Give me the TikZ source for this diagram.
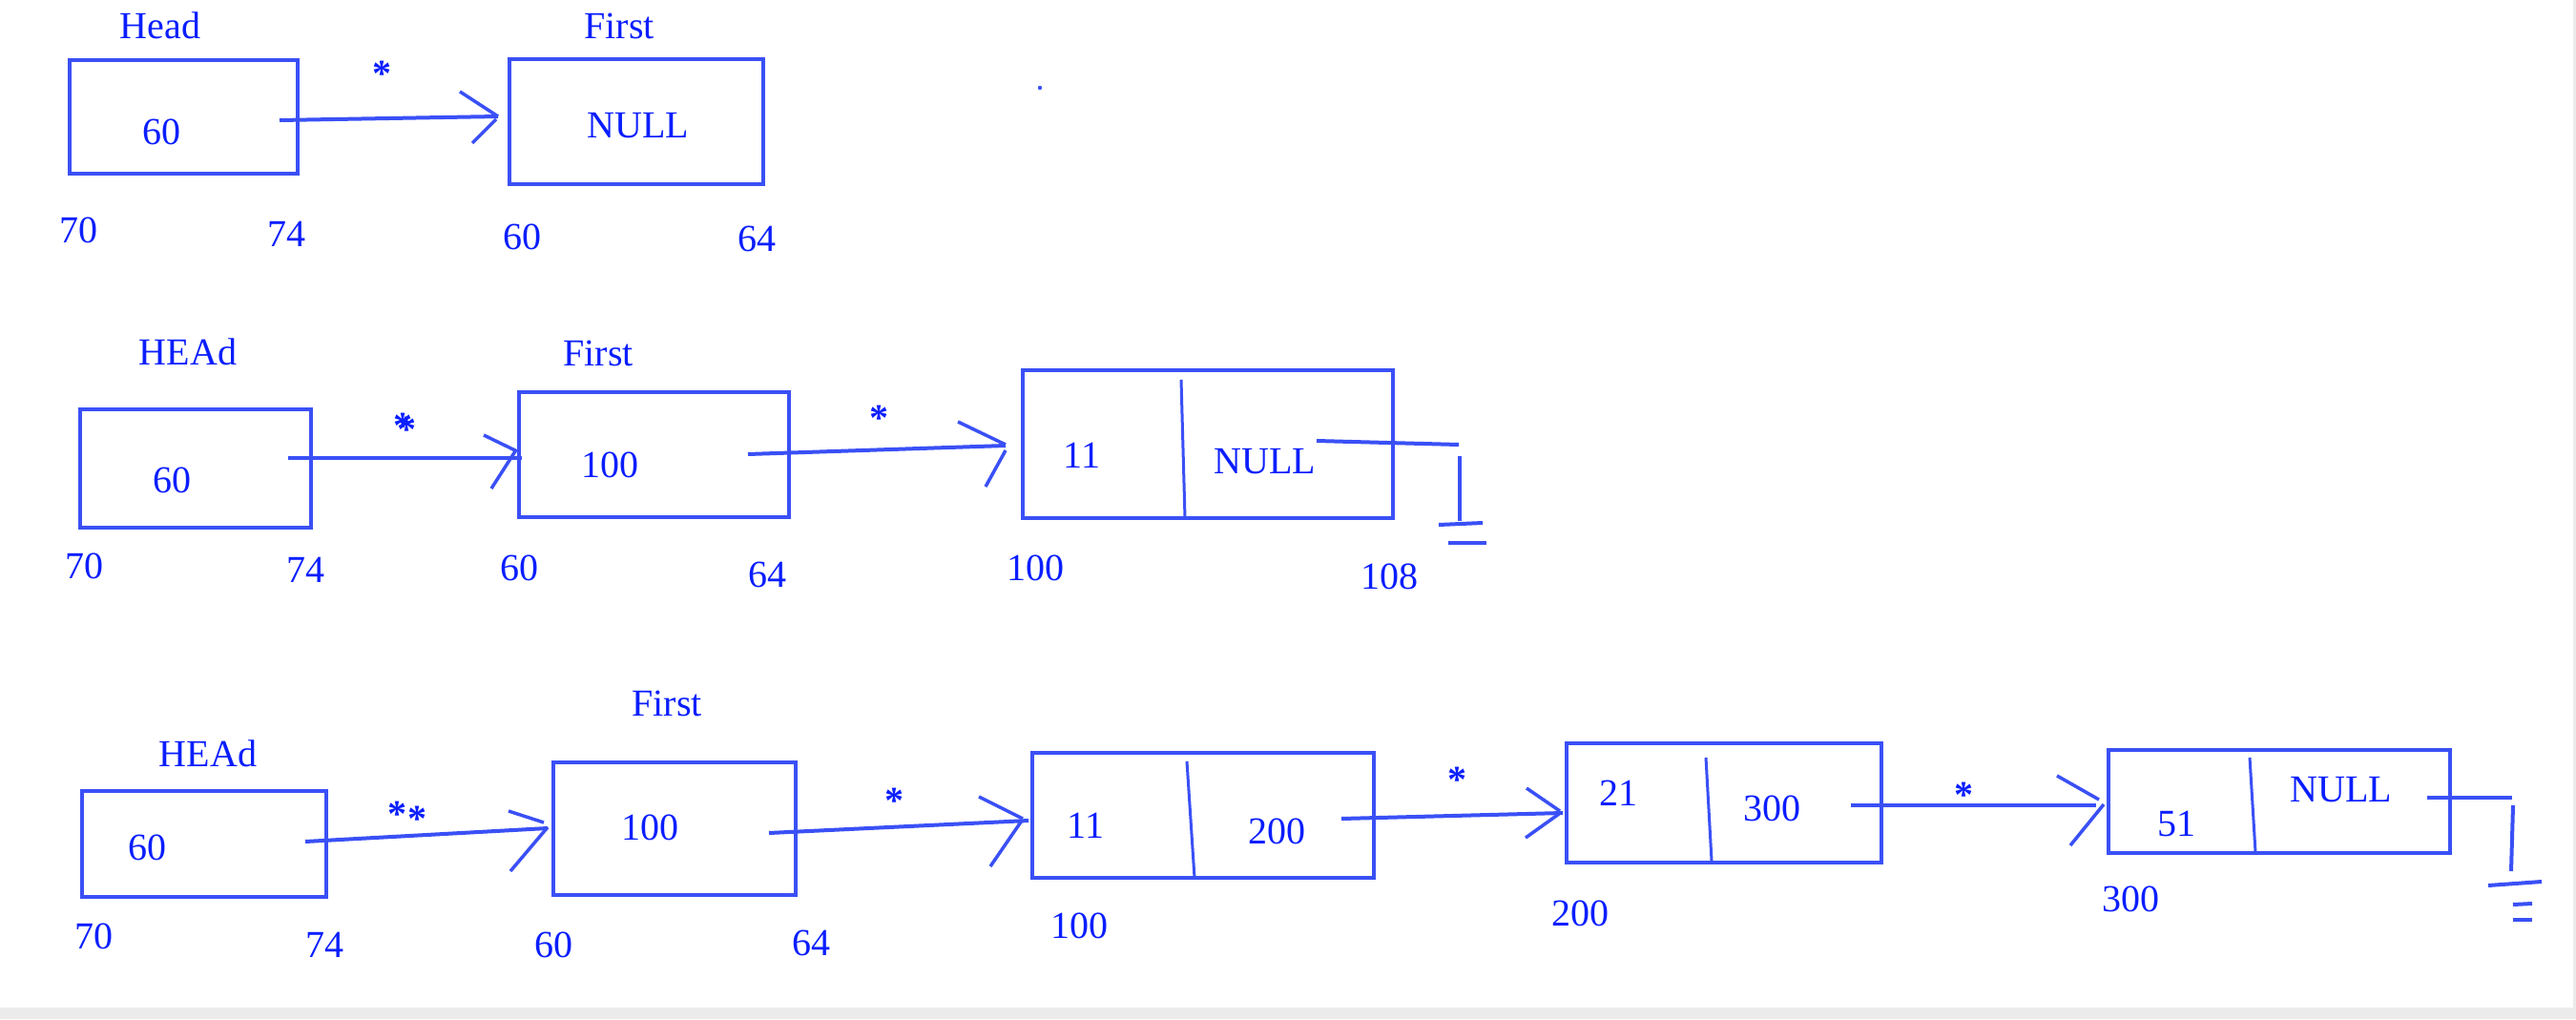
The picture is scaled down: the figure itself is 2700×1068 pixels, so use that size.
\documentclass[tikz,border=0pt]{standalone}
\usepackage{fontspec}
\setmainfont{Liberation Serif}
\definecolor{lineblue}{HTML}{3A50F6}
\definecolor{txtblue}{HTML}{0A1EFF}
\definecolor{bargray}{HTML}{EBEBEB}
\begin{document}
\begin{tikzpicture}[x=1pt,y=-1pt,
  box/.style={draw=lineblue, line width=4pt, inner sep=0pt},
  link/.style={draw=lineblue, line width=4pt},
  tipline/.style={draw=lineblue, line width=3.5pt},
  lbl/.style={inner sep=0pt, text=txtblue, font=\fontsize{40}{48}\selectfont},
  star/.style={inner sep=0pt, text=txtblue, anchor=north, font=\fontsize{40}{48}\selectfont\bfseries}]
\useasboundingbox (0,0) rectangle (2700,1068);
\fill[white] (0,0) rectangle (2700,1068);
\fill[bargray] (0,1056) rectangle (2700,1068);
\fill[bargray] (2697,0) rectangle (2700,1068);
\fill[lineblue] (1090,92) circle (2.2);

% ---------- Row 1 ----------
\node[box, minimum width=239pt, minimum height=119pt] (h1) at (192.5,122.5) {};
\node[box, minimum width=266pt, minimum height=131pt] (f1) at (667,127.5) {};
\node[lbl] (h1t) at (168,27) {Head};
\node[lbl] (f1t) at (649,27) {First};
\node[lbl] (h1v) at (169,138) {60};
\node[lbl] (f1v) at (669,132) {NULL};
\node[star] (s1) at (400,64) {*};
\node[lbl] (l1a) at (82,241) {70};
\node[lbl] (l1b) at (300,245) {74};
\node[lbl] (l1c) at (547,248) {60};
\node[lbl] (l1d) at (793,250) {64};
\coordinate (r1as) at (293,126); \coordinate (r1at) at (522,122);
\draw[link] (r1as) -- (r1at);
\draw[tipline] (482,96) -- (r1at) (495,150) -- (520,125);

% ---------- Row 2 ----------
\node[box, minimum width=242pt, minimum height=124pt] (h2) at (205,491) {};
\node[box, minimum width=283pt, minimum height=131pt] (f2) at (685.5,476.5) {};
\node[box, minimum width=388pt, minimum height=155pt] (n2) at (1266,465.5) {};
\draw[link, line width=3pt] (1238,398) -- (1242,543);
\node[lbl] (h2t) at (197,369) {HEAd};
\node[lbl] (f2t) at (627,370) {First};
\node[lbl] (h2v) at (180,503) {60};
\node[lbl] (f2v) at (639,487) {100};
\node[lbl] (n2a) at (1134,477) {11};
\node[lbl] (n2b) at (1326,484) {NULL};
\node[star] (s2a) at (422,433) {*};
\node[star] (s2b) at (426,437) {*};
\node[star] (s2c) at (921,425) {*};
\node[lbl] (l2a) at (88,593) {70};
\node[lbl] (l2b) at (320,597) {74};
\node[lbl] (l2c) at (544,595) {60};
\node[lbl] (l2d) at (804,602) {64};
\node[lbl] (l2e) at (1085,595) {100};
\node[lbl] (l2f) at (1456,604) {108};
\coordinate (r2as) at (302,480); \coordinate (r2at) at (547,480);
\draw[link] (r2as) -- (r2at);
\draw[tipline] (507,456) -- (542,473) (515,512) -- (540,473);
\coordinate (r2bs) at (784,476); \coordinate (r2bt) at (1054,467);
\draw[link] (r2bs) -- (r2bt);
\draw[tipline] (1004,442) -- (1054,466) (1033,510) -- (1054,472);
\coordinate (g2s) at (1380,462); \coordinate (g2e) at (1529,466);
\draw[link] (g2s) -- (g2e);
\draw[link] (1530,478) -- (1530,546);
\draw[link] (1508,550) -- (1554,548);
\draw[link] (1518,569) -- (1558,569);

% ---------- Row 3 ----------
\node[box, minimum width=256pt, minimum height=111pt] (h3) at (214,884.5) {};
\node[box, minimum width=254pt, minimum height=139pt] (f3) at (707,868.5) {};
\node[box, minimum width=358pt, minimum height=131pt] (n3a) at (1261,854.5) {};
\draw[link, line width=3pt] (1244,798) -- (1252,920);
\node[box, minimum width=330pt, minimum height=125pt] (n3b) at (1807,841.5) {};
\draw[link, line width=3pt] (1788,794) -- (1794,902);
\node[box, minimum width=358pt, minimum height=108pt] (n3c) at (2389,840) {};
\draw[link, line width=3pt] (2358,794) -- (2364,893);
\node[lbl] (h3t) at (218,790) {HEAd};
\node[lbl] (f3t) at (699,737) {First};
\node[lbl] (h3v) at (154,888) {60};
\node[lbl] (f3v) at (681,867) {100};
\node[lbl] (n3a1) at (1138,865) {11};
\node[lbl] (n3a2) at (1338,871) {200};
\node[lbl] (n3b1) at (1696,831) {21};
\node[lbl] (n3b2) at (1857,847) {300};
\node[lbl] (n3c1) at (2281,863) {51};
\node[lbl] (n3c2) at (2454,828) {NULL};
\node[star] (s3a) at (416,840) {*};
\node[star] (s3b) at (437,845) {*};
\node[star] (s3c) at (937,826) {*};
\node[star] (s3d) at (1527,804) {*};
\node[star] (s3e) at (2058,820) {*};
\node[lbl] (l3a) at (98,981) {70};
\node[lbl] (l3b) at (340,990) {74};
\node[lbl] (l3c) at (580,990) {60};
\node[lbl] (l3d) at (850,988) {64};
\node[lbl] (l3e) at (1131,970) {100};
\node[lbl] (l3f) at (1656,957) {200};
\node[lbl] (l3g) at (2233,942) {300};
\coordinate (r3as) at (320,882); \coordinate (r3at) at (574,868);
\draw[link] (r3as) -- (r3at);
\draw[tipline] (533,850) -- (570,862) (535,913) -- (574,867);
\coordinate (r3bs) at (806,873); \coordinate (r3bt) at (1078,860);
\draw[link] (r3bs) -- (r3bt);
\draw[tipline] (1026,835) -- (1072,858) (1038,908) -- (1071,860);
\coordinate (r3cs) at (1406,858); \coordinate (r3ct) at (1638,852);
\draw[link] (r3cs) -- (r3ct);
\draw[tipline] (1600,826) -- (1635,850) (1599,878) -- (1634,853);
\coordinate (r3ds) at (1940,844); \coordinate (r3dt) at (2197,844);
\draw[link] (r3ds) -- (r3dt);
\draw[tipline] (2156,813) -- (2200,838) (2170,886) -- (2205,843);
\coordinate (g3s) at (2544,836); \coordinate (g3e) at (2633,836);
\draw[link] (g3s) -- (g3e);
\draw[link] (2634,844) -- (2632,913);
\draw[link] (2608,928) -- (2664,924);
\draw[link] (2634,948) -- (2654,947);
\draw[link] (2634,964) -- (2654,964);
\end{tikzpicture}
\end{document}
